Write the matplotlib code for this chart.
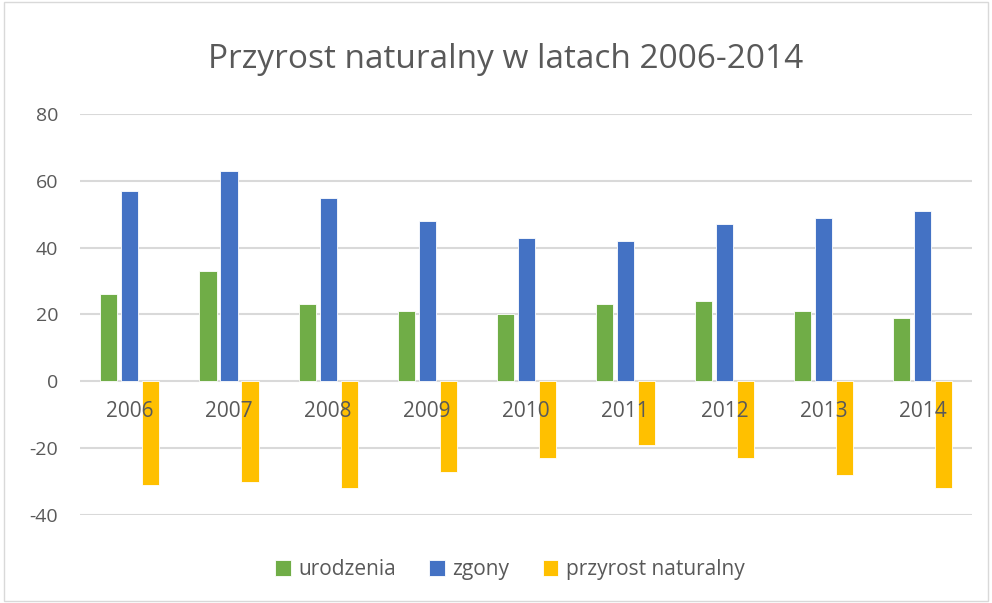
import matplotlib.pyplot as plt
import numpy as np
from matplotlib.patches import Rectangle

years = ['2006', '2007', '2008', '2009', '2010', '2011', '2012', '2013', '2014']
urodzenia = [26, 33, 23, 21, 20, 23, 24, 21, 19]
zgony = [57, 63, 55, 48, 43, 42, 47, 49, 51]
przyrost = [-31, -30, -32, -27, -23, -19, -23, -28, -32]

plt.rcParams['font.family'] = ['Open Sans', 'DejaVu Sans']
plt.rcParams['axes.unicode_minus'] = False
txt = '#595959'

fig = plt.figure(figsize=(9.92, 6.03), dpi=100)
ax = fig.add_axes([0.081, 0.146, 0.899, 0.665])

x = np.arange(len(years))
w = 0.172
step = 0.212
ax.bar(x - step, urodzenia, w, color='#70AD47', edgecolor='white', linewidth=0.6,
       label='urodzenia', zorder=3)
ax.bar(x, zgony, w, color='#4472C4', edgecolor='white', linewidth=0.6,
       label='zgony', zorder=3)
ax.bar(x + step, przyrost, w, color='#FFC000', edgecolor='white', linewidth=0.6,
       label='przyrost naturalny', zorder=3)

ax.set_xlim(-0.5, len(years) - 0.5)
ax.set_ylim(-40, 80)
ax.set_yticks(range(-40, 81, 20))
ax.yaxis.grid(True, color='#d9d9d9', linewidth=1.5, zorder=0)
ax.set_axisbelow(True)
for s in ax.spines.values():
    s.set_visible(False)
ax.tick_params(axis='y', length=0, labelsize=14, labelcolor=txt, pad=16)
ax.set_xticks([])

# category labels sit just below the zero line
for xi, yr in zip(x, years):
    ax.text(xi, -9, yr, ha='center', va='center', fontsize=15, color=txt, zorder=4)

fig.suptitle('Przyrost naturalny w latach 2006-2014', x=0.51, y=0.928, fontsize=24, color=txt)

leg = fig.legend(loc='center', bbox_to_anchor=(0.514, 0.055), ncol=3, frameon=False,
                 fontsize=15, handlelength=0.75, handleheight=0.75, columnspacing=1.6,
                 handletextpad=0.35)
for t in leg.get_texts():
    t.set_color(txt)

fig.patches.append(Rectangle((0.004, 0.004), 0.992, 0.992, transform=fig.transFigure,
                             fill=False, edgecolor='#d9d9d9', linewidth=1))

fig.savefig('out.png', dpi=100)
